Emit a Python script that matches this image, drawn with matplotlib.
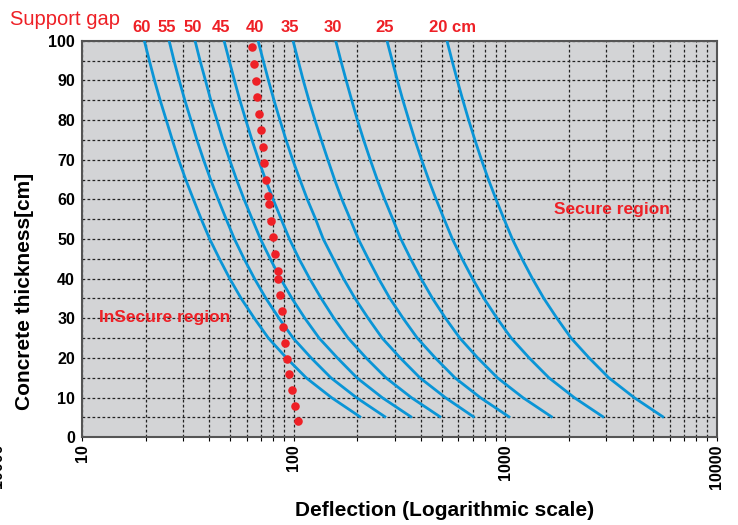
import numpy as np
import matplotlib.pyplot as plt
from matplotlib.ticker import MultipleLocator, LogLocator, NullFormatter, FixedLocator

plt.rcParams['font.family'] = ['Liberation Sans', 'DejaVu Sans']

# concrete thickness levels (cm) where the curves were read
thickness = [100, 95, 90, 85, 80, 75, 70, 65, 60, 55, 50, 45, 40, 35, 30, 25, 20, 15, 10, 5]

# deflection, same order as thickness
defl_60 = [19.7, 20.8, 22.0, 23.4, 25.0, 26.7, 28.6, 30.9, 33.6, 36.6, 40.1, 44.6, 49.9, 56.5, 65.2, 76.0, 92.5, 114.6, 151, 208]
defl_55 = [25.8, 27.2, 28.8, 30.6, 32.7, 34.9, 37.5, 40.5, 44.0, 48.0, 52.5, 58.3, 65.3, 74.0, 85.3, 99.5, 121, 150, 198, 273]
defl_50 = [34.2, 36.1, 38.3, 40.6, 43.4, 46.3, 49.8, 53.7, 58.3, 63.7, 69.7, 77.5, 86.7, 98.2, 113, 132, 161, 199, 262, 362]
defl_45 = [46.9, 49.6, 52.5, 55.7, 59.4, 63.5, 68.2, 73.6, 80.0, 87.3, 95.5, 106, 119, 135, 155, 181, 220, 273, 360, 497]
defl_40 = [67.9, 71.8, 76.0, 80.7, 86.1, 92.0, 98.9, 107, 116, 127, 138, 154, 172, 195, 225, 262, 319, 395, 521, 715]
defl_35 = [99.3, 105, 111, 118, 126, 135, 145, 156, 169, 185, 202, 225, 252, 285, 329, 384, 467, 578, 762, 1052]
defl_30 = [158, 167, 177, 188, 200, 214, 230, 248, 269, 294, 321, 357, 400, 453, 522, 610, 741, 918, 1211, 1671]
defl_25 = [276, 292, 309, 328, 350, 374, 402, 434, 471, 514, 562, 625, 700, 793, 914, 1067, 1297, 1607, 2118, 2924]
defl_20 = [530, 560, 593, 630, 671, 718, 771, 832, 904, 986, 1079, 1199, 1343, 1521, 1754, 2046, 2489, 3083, 4064, 5610]

gap_labels = ['60', '55', '50', '45', '40', '35', '30', '25', '20 cm']
gap_label_x = [19.1, 25.2, 33.3, 45.4, 65.3, 96.0, 152.5, 268.5, 565]

# red dotted limit line
dot_x = [63.5, 64.9, 66.2, 67.3, 68.8, 70.1, 71.4, 72.6, 74.0, 75.6, 76.4, 78.1, 79.9,
         81.8, 84.0, 84.6, 86.1, 87.7, 89.3, 91.0, 92.7, 95.3, 98.1, 101.0, 104.4]
dot_y = [98.3, 94.1, 89.9, 85.7, 81.6, 77.4, 73.2, 69.1, 64.9, 60.8, 58.8, 54.6, 50.5,
         46.2, 41.9, 39.9, 35.9, 31.9, 27.8, 23.8, 19.7, 15.9, 11.9, 8.0, 4.1]

curves = [defl_60, defl_55, defl_50, defl_45, defl_40, defl_35, defl_30, defl_25, defl_20]

W, H = 738, 525
fig = plt.figure(figsize=(W / 100, H / 100), dpi=100)
ax = fig.add_axes([82 / W, 1 - 437.3 / H, 635 / W, 396.6 / H])
ax.set_facecolor('#d3d4d6')

for c in curves:
    ax.plot(c, thickness, color='#0a95d6', lw=2.0, zorder=3, solid_capstyle='butt',
            solid_joinstyle='round')

ax.scatter(dot_x, dot_y, s=38, color='#ee2026', zorder=4, linewidths=0)

ax.set_xscale('log')
ax.set_xlim(10, 10000)
ax.set_ylim(0, 100)

ax.xaxis.set_major_locator(FixedLocator([10, 100, 1000, 10000]))
ax.xaxis.set_minor_locator(LogLocator(base=10, subs=np.arange(2, 10)))
ax.xaxis.set_minor_formatter(NullFormatter())
ax.set_xticklabels(['10', '100', '1000', '10000'], rotation=90, fontsize=11.5, fontweight='bold')
ax.yaxis.set_major_locator(MultipleLocator(10))
ax.yaxis.set_minor_locator(MultipleLocator(5))
for lab in ax.get_yticklabels():
    lab.set_fontsize(11.5)
    lab.set_fontweight('bold')

ax.tick_params(axis='x', which='both', direction='out', length=3, width=0.8, pad=2)
ax.tick_params(axis='y', which='both', length=0, pad=5)

ax.grid(True, which='both', color='#222222', lw=0.9, ls=(0, (2.2, 1.8)), zorder=1)
ax.set_axisbelow(True)

for s in ax.spines.values():
    s.set_color('#555555')
    s.set_linewidth(1.5)

red = '#ee2026'
for lab, xv in zip(gap_labels, gap_label_x):
    ax.text(xv, 1.0212, lab, transform=ax.get_xaxis_transform(), ha='center', va='baseline',
            color=red, fontsize=12, fontweight='bold')
fig.text(10 / W, 1 - 25 / H, 'Support gap', color=red, fontsize=14.5, ha='left', va='baseline')

ax.text(12.0, 30.1, 'InSecure region', color=red, fontsize=12.5, fontweight='bold',
        ha='left', va='center', zorder=5)
ax.text(1697, 57.5, 'Secure region', color=red, fontsize=12.5, fontweight='bold',
        ha='left', va='center', zorder=5)

fig.text(445 / W, 1 - 511 / H, 'Deflection (Logarithmic scale)', fontsize=15, fontweight='bold',
         ha='center', va='center')
fig.text(25 / W, 1 - 291 / H, 'Concrete thickness[cm]', fontsize=15, fontweight='bold',
         rotation=90, ha='center', va='center')
# clipped label at the far left edge, as in the original
fig.text(-2 / W, 1 - 443 / H, '10000', fontsize=11.5, fontweight='bold', rotation=90,
         ha='center', va='top')

fig.savefig('out.png', dpi=100)
